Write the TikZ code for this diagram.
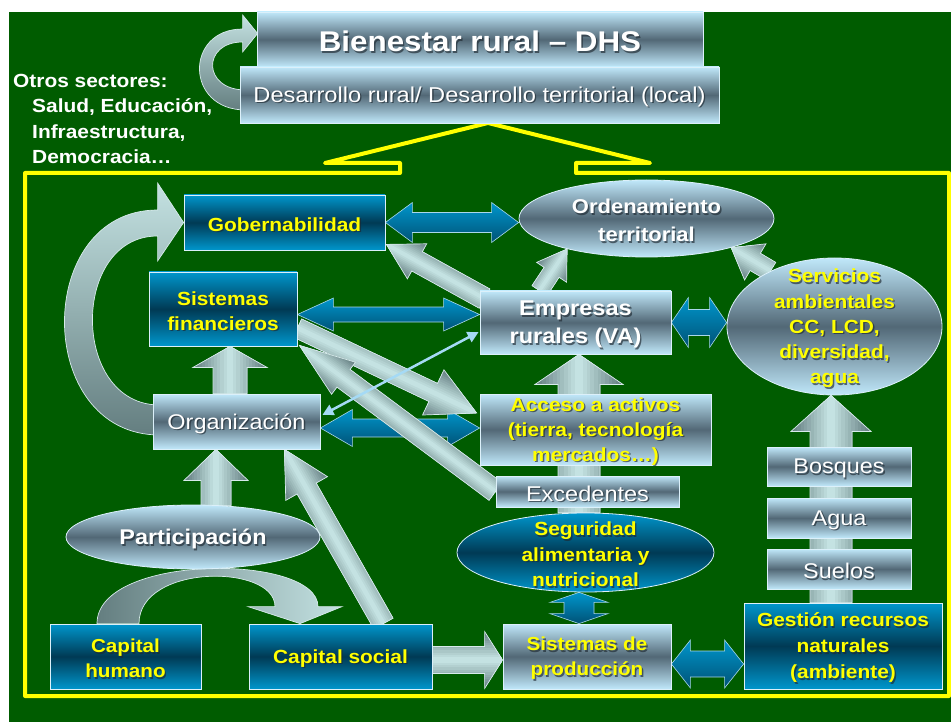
\documentclass[tikz,border=0pt]{standalone}
\usepackage{fontspec}
\setmainfont{Liberation Sans}[FakeStretch=1.1]
\usetikzlibrary{calc,shapes.geometric,arrows.meta}
\definecolor{bggreen}{RGB}{0,92,0}
\definecolor{lb}{RGB}{192,232,250}
\definecolor{slate}{RGB}{82,104,118}
\definecolor{ledge}{RGB}{220,240,250}
\definecolor{bb}{RGB}{0,150,204}
\definecolor{db}{RGB}{0,58,84}
\definecolor{bdark}{RGB}{0,82,118}
\definecolor{gdark}{RGB}{100,126,128}
\definecolor{glight}{RGB}{196,226,226}
\definecolor{gedge}{RGB}{215,235,235}
\definecolor{bedge}{RGB}{170,215,235}
\definecolor{thinblue}{RGB}{165,218,245}
\definecolor{yel}{RGB}{255,255,0}
\definecolor{shadowc}{RGB}{30,40,48}
\pgfdeclarelayer{back}
\pgfdeclarelayer{arr}
\pgfsetlayers{back,arr,main}
\newcommand{\fsz}[2]{\fontsize{#1}{#2}\selectfont}
% text with a soft drop shadow: style, name, position, text
\newcommand{\tnode}[4]{%
  \node[#1, text=shadowc, text opacity=0.65] (#2s) at ($(#3)+(1.4,1.4)$) {#4};
  \node[#1] (#2) at (#3) {#4};
}
% straight grey block arrow: from, to, shaft half width, head half width, head length
\newcommand{\greyarrow}[5]{%
  \coordinate (baS) at (#1);
  \coordinate (baE) at (#2);
  \coordinate (baC) at ($(baE)!#5pt!(baS)$);
  \path[draw=gedge, line width=0.7pt, path picture={%
      \foreach \k in {0,...,11}{%
        \pgfmathsetmacro{\mywd}{2*#4*(1-\k/12)+0.6}%
        \pgfmathsetmacro{\mypc}{100*\k/11}%
        \draw[line width=\mywd pt, color=glight!\mypc!gdark] (baS) -- (baE);
      }}]
    ($(baS)!#3pt!90:(baE)$) -- ($(baC)!#3pt!90:(baE)$) -- ($(baC)!#4pt!90:(baE)$) -- (baE)
    -- ($(baC)!#4pt!-90:(baE)$) -- ($(baC)!#3pt!-90:(baE)$) -- ($(baS)!#3pt!-90:(baE)$) -- cycle;
}
% blue double-headed block arrow
\newcommand{\bluedarrow}[5]{%
  \coordinate (bbS) at (#1);
  \coordinate (bbE) at (#2);
  \coordinate (bbCa) at ($(bbS)!#5pt!(bbE)$);
  \coordinate (bbCb) at ($(bbE)!#5pt!(bbS)$);
  \path[bluearr] (bbS) -- ($(bbCa)!#4pt!90:(bbE)$) -- ($(bbCa)!#3pt!90:(bbE)$)
    -- ($(bbCb)!#3pt!90:(bbE)$) -- ($(bbCb)!#4pt!90:(bbE)$) -- (bbE)
    -- ($(bbCb)!#4pt!-90:(bbE)$) -- ($(bbCb)!#3pt!-90:(bbE)$)
    -- ($(bbCa)!#3pt!-90:(bbE)$) -- ($(bbCa)!#4pt!-90:(bbE)$) -- cycle;
}
\begin{document}
\begin{tikzpicture}[x=1pt,y=-1pt,
  lightbox/.style={rectangle, draw=ledge, line width=0.8pt, top color=lb, bottom color=lb, middle color=slate, inner sep=0pt},
  darkbox/.style={rectangle, draw=ledge, line width=0.8pt, top color=bb, bottom color=bb, middle color=db, inner sep=0pt},
  lightell/.style={ellipse, draw=ledge, line width=0.8pt, top color=lb, bottom color=lb, middle color=slate, inner sep=0pt},
  darkell/.style={ellipse, draw=ledge, line width=0.8pt, top color=bb, bottom color=bb, middle color=db, inner sep=0pt},
  wtxt/.style={text=white, align=center, inner sep=0pt, yshift=-2pt},
  ytxt/.style={text=yel, align=center, inner sep=0pt, yshift=-2pt},
  bluearr/.style={draw=bedge, line width=0.6pt, top color=bb, bottom color=bdark},
  ribbonstyle/.style={draw=gedge, line width=0.7pt},
  thinarr/.style={draw=thinblue, line width=2.5pt, {Triangle[length=11pt,width=11pt]}-{Triangle[length=11pt,width=11pt]}}
]
\useasboundingbox (0,0) rectangle (951,722);
\begin{pgfonlayer}{back}
\fill[white] (0,0) rectangle (951,722);
\fill[bggreen] (9,12) rectangle (951,722);
\draw[yel, line width=4pt, line join=round] (25,173) -- (400,173) -- (400,163) -- (325,163) -- (488,123) -- (650,163) -- (576,163) -- (576,173) -- (949,173) -- (949,696) -- (25,696) -- cycle;
\end{pgfonlayer}

% shapes
\node[lightbox, minimum width=446pt, minimum height=55pt] (bien) at (480,39.5) {};
\node[lightbox, minimum width=479pt, minimum height=56pt] (desa) at (479.5,95) {};
\node[darkbox, minimum width=201pt, minimum height=55pt] (gob) at (284.5,222.5) {};
\node[lightell, minimum width=255pt, minimum height=77pt] (orden) at (646.5,218.5) {};
\node[darkbox, minimum width=148pt, minimum height=74pt] (sisfin) at (223,309) {};
\node[lightbox, minimum width=191pt, minimum height=63pt] (emp) at (575.5,322.5) {};
\node[lightell, minimum width=215pt, minimum height=137pt] (serv) at (834.5,326.5) {};
\node[lightbox, minimum width=167pt, minimum height=55pt] (org) at (236.5,421.5) {};
\node[lightbox, minimum width=231pt, minimum height=71pt] (acc) at (595.5,429.5) {};
\node[lightbox, minimum width=183pt, minimum height=31pt] (exc) at (587.5,491.5) {};
\node[lightbox, minimum width=144pt, minimum height=39pt] (bos) at (839,466.5) {};
\node[lightbox, minimum width=144pt, minimum height=40pt] (agua) at (839,518) {};
\node[lightbox, minimum width=144pt, minimum height=40pt] (sue) at (839,569) {};
\node[darkell, minimum width=257pt, minimum height=79pt] (seg) at (585.5,552.5) {};
\node[lightbox, minimum width=168pt, minimum height=65pt] (sisprod) at (587,656.5) {};
\node[darkbox, minimum width=198pt, minimum height=86pt] (gest) at (843,646) {};
\node[lightell, minimum width=254pt, minimum height=64pt] (part) at (193,537) {};
\node[darkbox, minimum width=151pt, minimum height=65pt] (caph) at (125.5,656.5) {};
\node[darkbox, minimum width=183pt, minimum height=65pt] (caps) at (340.5,656.5) {};

% texts
\tnode{wtxt, font=\fsz{28.5}{32}\bfseries}{bient}{bien.center}{Bienestar rural – DHS}
\tnode{wtxt, font=\fsz{21.5}{25}}{desat}{desa.center}{Desarrollo rural/ Desarrollo territorial (local)}
\tnode{ytxt, font=\fsz{19}{25}\bfseries}{gobt}{gob.center}{Gobernabilidad}
\tnode{wtxt, font=\fsz{20}{28}\bfseries}{ordent}{orden.center}{Ordenamiento\\territorial}
\tnode{ytxt, font=\fsz{19}{25}\bfseries}{sisfint}{sisfin.center}{Sistemas\\financieros}
\tnode{wtxt, font=\fsz{21.4}{28}\bfseries}{empt}{emp.center}{Empresas\\rurales (VA)}
\tnode{ytxt, font=\fsz{19}{25.3}\bfseries}{servt}{serv.center}{Servicios\\ambientales\\CC, LCD,\\diversidad,\\agua}
\tnode{wtxt, font=\fsz{21.3}{25}}{orgt}{org.center}{Organización}
\tnode{ytxt, font=\fsz{19}{25}\bfseries}{acct}{acc.center}{Acceso a activos\\(tierra, tecnología\\mercados…)}
\tnode{wtxt, font=\fsz{21.4}{25}}{exct}{exc.center}{Excedentes}
\tnode{wtxt, font=\fsz{21.3}{25}}{bost}{bos.center}{Bosques}
\tnode{wtxt, font=\fsz{21.3}{25}}{aguat}{agua.center}{Agua}
\tnode{wtxt, font=\fsz{21.3}{25}}{suet}{sue.center}{Suelos}
\tnode{ytxt, font=\fsz{19}{25.5}\bfseries}{segt}{seg.center}{Seguridad\\alimentaria y\\nutricional}
\tnode{ytxt, font=\fsz{18.8}{25}\bfseries}{sisprodt}{sisprod.center}{Sistemas de\\producción}
\tnode{ytxt, font=\fsz{19}{26}\bfseries}{gestt}{gest.center}{Gestión recursos\\naturales\\(ambiente)}
\tnode{wtxt, font=\fsz{21.3}{25}\bfseries}{partt}{part.center}{Participación}
\tnode{ytxt, font=\fsz{18.8}{25}\bfseries}{capht}{caph.center}{Capital\\humano}
\tnode{ytxt, font=\fsz{19}{25}\bfseries}{capst}{caps.center}{Capital social}
\node[text=white, align=left, anchor=north west, inner sep=0pt, font=\fsz{19}{25.5}\bfseries] (otros) at (13,74) {Otros sectores:\\\hspace*{19pt}Salud, Educación,\\\hspace*{19pt}Infraestructura,\\\hspace*{19pt}Democracia…};

\begin{pgfonlayer}{arr}
% curved ribbons
\path[ribbonstyle, top color=glight, bottom color=gdark]
  ($(desa.west)+(6,15)$) .. controls +(-61,0) and +(-58,0) .. ($(bien.west)+(-14,-10.5)$)
  -- ($(bien.west)+(-14,-24.5)$) -- ($(bien.west)+(1,-6)$) -- ($(bien.west)+(-14,12.5)$)
  -- ($(bien.west)+(-14,2.5)$) .. controls +(-40.5,0) and +(-43.5,0) .. ($(desa.west)+(6,-5)$) -- cycle;
\path[ribbonstyle, top color=glight, bottom color=gdark]
  ($(org.west)+(7,13.5)$) .. controls +(-126.5,0) and +(-124.5,0) .. ($(gob.west)+(-26,-12.5)$)
  -- ($(gob.west)+(-26,-39.5)$) -- (gob.west) -- ($(gob.west)+(-26,38.5)$)
  -- ($(gob.west)+(-26,13.5)$) .. controls +(-87.2,0) and +(-89.2,0) .. ($(org.west)+(7,-16.5)$) -- cycle;
\path[ribbonstyle, left color=gdark, right color=glight]
  ($(caph.north)+(-28.5,0)$) .. controls +(0,-70.5) and +(0,-53.5) .. ($(caps.north)+(-22.5,-17)$)
  -- ($(caps.north)+(1.5,-17)$) -- ($(caps.north)+(-40.5,0)$) -- ($(caps.north)+(-92.5,-17)$)
  -- ($(caps.north)+(-65.5,-17)$) .. controls +(0,-43) and +(0,-60) .. ($(caph.north)+(13.5,0)$) -- cycle;
% blue double arrows
\bluedarrow{gob.east}{orden.west |- bbS}{10}{20}{27}
\bluedarrow{$(sisfin.east)+(0,5.5)$}{emp.west |- bbS}{7.5}{16.5}{36}
\bluedarrow{$(org.east)+(0,6.5)$}{acc.west |- bbS}{9}{18.5}{32}
\bluedarrow{emp.east}{serv.west |- bbS}{13}{25}{17}
\bluedarrow{$(seg.south)+(-6.5,0)$}{$(sisprod.north)+(-8,0)$}{15}{29}{10}
\bluedarrow{$(sisprod.east)+(0,7.5)$}{gest.west |- bbS}{13}{24}{19}
% grey arrows
\greyarrow{$(org.north)+(-6.5,0)$}{$(sisfin.south)+(7,0)$}{17}{37}{21}
\greyarrow{$(part.north)+(23,1)$}{$(org.south)+(-20.5,0)$}{15}{32}{31}
\greyarrow{$(caps.north)+(43,0)$}{$(org.south east)+(-36,0)$}{11}{24}{45}
\greyarrow{$(sisfin.east)+(0,19)$}{$(acc.west)+(-3,-16.5)$}{10}{25}{48}
\greyarrow{exc.west}{$(sisfin.south east)+(2,-1)$}{11}{20}{55}
\greyarrow{$(emp.north west)+(5,8)$}{$(gob.south east)+(1,-6)$}{11}{20}{35}
\greyarrow{$(emp.north)+(-36,0)$}{orden.201}{9}{18}{28}
\greyarrow{serv.139}{orden.-19}{10}{21}{28}
\greyarrow{$(seg.north)+(-6.5,0)$}{$(emp.south)+(3.5,0)$}{21}{44}{30}
\greyarrow{$(gest.north)+(-12,0)$}{$(serv.south)+(-3.5,0)$}{21}{40}{36}
\greyarrow{$(caps.east)+(0,3.5)$}{$(sisprod.west)+(0,3.5)$}{13.5}{28.5}{18}
% thin double arrow
\draw[thinarr] ($(org.east)+(2,-6.5)$) -- ($(emp.west)+(-1,9.5)$);
\end{pgfonlayer}
\end{tikzpicture}
\end{document}
